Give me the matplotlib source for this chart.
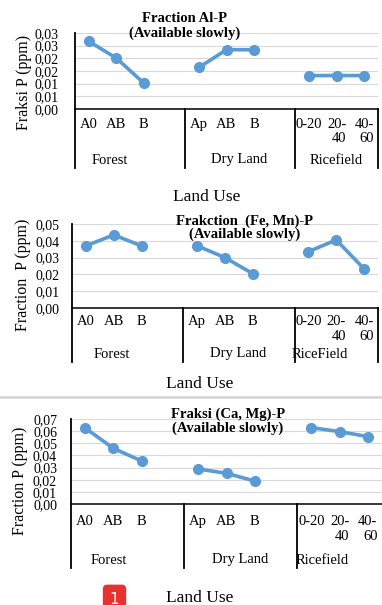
import numpy as np
import matplotlib.pyplot as plt
from matplotlib.lines import Line2D
from matplotlib.transforms import blended_transform_factory

plt.rcParams['font.family'] = ['Liberation Serif', 'DejaVu Serif']

W, H = 382, 605

# categories (blank slot between groups, like the Excel source)
slots = ['A0', 'AB', 'B', '', 'Ap', 'AB', 'B', '', '0-20', '20-\n40', '40-\n60']

al_p = [0.0267, 0.0201, 0.0102, None, 0.0164, 0.0234, 0.0234, None, 0.0132, 0.0132, 0.0132]
fe_mn_p = [0.0370, 0.0435, 0.0370, None, 0.0370, 0.0300, 0.0204, None, 0.0336, 0.0405, 0.0233]
ca_mg_p = [0.0626, 0.0458, 0.0354, None, 0.0288, 0.0253, 0.0189, None, 0.0629, 0.0596, 0.0555]

al_ticks = ['0,00', '0,01', '0,01', '0,02', '0,02', '0,03', '0,03']
fe_ticks = ['0,00', '0,01', '0,02', '0,03', '0,04', '0,05']
ca_ticks = ['0,00', '0,01', '0,02', '0,03', '0,04', '0,05', '0,06', '0,07']

groups1 = ['Forest', 'Dry Land', 'Ricefield']
groups2 = ['Forest', 'Dry Land', 'RiceField']
groups3 = ['Forest', 'Dry Land', 'Ricefield']

blue = '#5b9bd5'
fig = plt.figure(figsize=(W / 100, H / 100), dpi=100)


def fy(y):
    return 1 - y / H


def panel(vals, ticks, ymax, box, cat_bottom, pad, lab_off, groups, gpos, gy,
          title, tpos, ylabel, ylx, yly, land_y, land_x, right_line=True):
    left, top, right, bottom = box
    ax = fig.add_axes([left / W, fy(bottom), (right - left) / W, (bottom - top) / H])
    x = np.arange(len(slots))
    y = np.array([np.nan if v is None else v for v in vals])
    ax.plot(x, y, color=blue, lw=2.6, marker='o', ms=7, zorder=3, clip_on=False)
    ax.set_xlim(-0.5, len(slots) - 0.5)
    ax.set_ylim(0, ymax)
    ax.set_yticks(np.linspace(0, ymax, len(ticks)))
    ax.set_yticklabels(ticks)
    ax.tick_params(axis='y', length=0, pad=pad, labelsize=10)
    ax.set_xticks([])
    ax.grid(axis='y', color='#d9d9d9', lw=0.8)
    ax.set_axisbelow(True)
    for s in ['top', 'right', 'left']:
        ax.spines[s].set_visible(False)
    ax.spines['bottom'].set_color('black')
    ax.spines['bottom'].set_linewidth(1.1)

    tr = blended_transform_factory(ax.transData, fig.transFigure)
    seps = [(-0.5, top), (3.5, bottom), (7.5, bottom)]
    if right_line:
        seps.append((len(slots) - 0.5, bottom))
    for xs, y0 in seps:
        ax.plot([xs, xs], [fy(y0), fy(cat_bottom)], transform=tr,
                color='black', lw=1.3, clip_on=False)

    for i, lab in enumerate(slots):
        if lab:
            ax.text(i, fy(bottom + lab_off), lab, transform=tr, ha='center', va='top',
                    multialignment='right', fontsize=10.5, linespacing=1.15)
    for g, gx in zip(groups, gpos):
        ax.text(gx, fy(gy), g, transform=tr, ha='center', va='center', fontsize=10.5)

    for line, (tx, ty) in zip(title, tpos):
        fig.text(tx / W, fy(ty), line, ha='center', va='center',
                 fontsize=10.5, fontweight='bold')
    fig.text(ylx / W, fy(yly), ylabel, rotation=90, ha='center', va='center', fontsize=11.5)
    fig.text(land_x / W, fy(land_y), 'Land Use', ha='center', va='center', fontsize=12.5)


panel(al_p, al_ticks, 0.03, (75, 33, 378, 109), 168, 12, 9,
      groups1, [0.77, 5.46, 8.99], 160,
      ['Fraction Al-P', '(Available slowly)'], [(185, 18.5), (185, 33)],
      'Fraksi P (ppm)', 24, 82, 197, 207)

panel(fe_mn_p, fe_ticks, 0.05, (72, 224, 378, 308), 362, 9, 7,
      groups2, [0.94, 5.47, 8.42], 354,
      ['Frakction  (Fe, Mn)-P', '(Available slowly)'], [(244, 221), (245, 234)],
      'Fraction  P (ppm)', 23, 275, 384, 200)

panel(ca_mg_p, ca_ticks, 0.07, (71, 419, 382, 504), 568, 10, 11,
      groups3, [0.83, 5.48, 8.38], 560,
      ['Fraksi (Ca, Mg)-P', '(Available slowly)'], [(228, 414), (228, 428)],
      'Fraction P (ppm)', 20, 481, 598, 200, right_line=False)

fig.add_artist(Line2D([0, 1], [fy(396.5), fy(396.5)], color='#d4d4d4', lw=1.8))

fig.text(114.5 / W, fy(599), '1', ha='center', va='center', color='white',
         fontsize=11, family='DejaVu Sans',
         bbox=dict(boxstyle='round,pad=0.45,rounding_size=0.3', fc='#e8302e', ec='none'))

fig.savefig('out.png', dpi=100)
